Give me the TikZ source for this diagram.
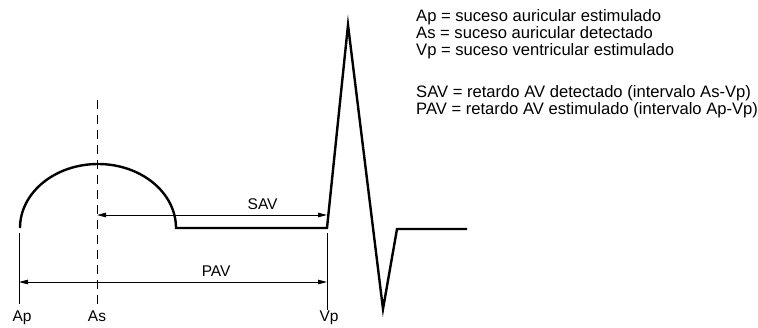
\documentclass[tikz,border=0pt]{standalone}
\usepackage{fontspec}
\setmainfont{Liberation Sans}
\usetikzlibrary{arrows.meta}
\begin{document}
\begin{tikzpicture}[x=1pt,y=-1pt,
  wave/.style={line width=2.4pt,line join=miter},
  thin/.style={line width=1pt},
  dim/.style={line width=1pt,{Triangle[length=9pt,width=4.5pt]}-{Triangle[length=9pt,width=4.5pt]}},
  lbl/.style={font=\fontsize{15.5}{17}\selectfont,inner sep=0pt},
  legend/.style={font=\fontsize{16.6}{17.2}\selectfont,inner sep=0pt,align=left,anchor=north west}]
\useasboundingbox (0,0) rectangle (758,327);
% waveform
\coordinate (w0) at (20,228);
\coordinate (w1) at (176,228);
\coordinate (w2) at (327,228);
\coordinate (w3) at (348,25);
\coordinate (w4) at (383,309);
\coordinate (w5) at (397,229);
\coordinate (w6) at (467,229);
\draw[wave] (w0) arc[start angle=180,end angle=0,x radius=78,y radius=-64] -- (w2) -- (w3) -- (w4) -- (w5) -- (w6);
% labels
\node[lbl,anchor=base] (ap) at (22,321) {Ap};
\node[lbl,anchor=base] (as) at (97,321) {As};
\node[lbl,anchor=base] (vp) at (329,321) {Vp};
% vertical markers
\coordinate (apt) at (19,233);
\coordinate (apb) at (19,304);
\coordinate (ast) at (97,100);
\coordinate (asb) at (97,304);
\coordinate (vpt) at (327,233);
\coordinate (vpb) at (327,310);
\draw[thin] (apt) -- (apb);
\draw[thin] (vpt) -- (vpb);
\draw[thin,dash pattern=on 9pt off 6pt] (ast) -- (asb);
% dimension arrows
\coordinate (sl) at (97,215);
\coordinate (sr) at (327,215);
\coordinate (pl) at (19,282);
\coordinate (pr) at (327,282);
\draw[dim] (sl) -- node[lbl,above=5pt,pos=0.72] (sav) {SAV} (sr);
\draw[dim] (pl) -- node[lbl,above=5pt,pos=0.64] (pav) {PAV} (pr);
% legend
\node[legend] (leg) at (416,9) {Ap = suceso auricular estimulado\\
As = suceso auricular detectado\\
Vp = suceso ventricular estimulado\\[24.5pt]
SAV = retardo AV detectado (intervalo As-Vp)\\
PAV = retardo AV estimulado (intervalo Ap-Vp)};
\end{tikzpicture}
\end{document}
